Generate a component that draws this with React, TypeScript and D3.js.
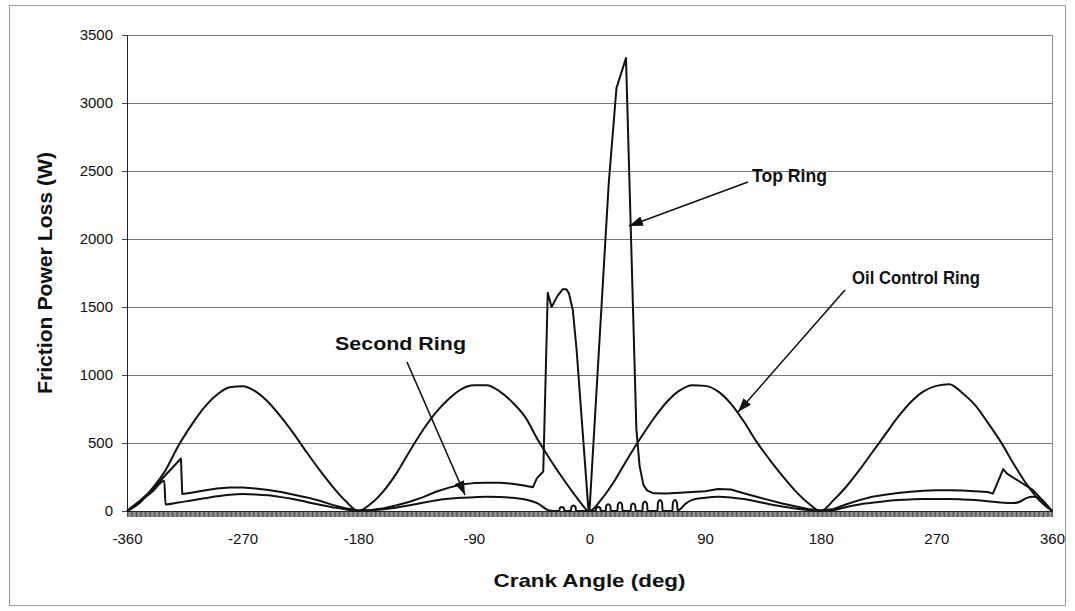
import * as d3 from "d3"
import { useEffect, useRef } from "react"

// Oil control ring, every 10 deg
const oilAngle = [-360, -350, -340, -330, -320, -310, -300, -290, -280, -270, -260, -250, -240, -230, -220, -210, -200, -190, -180,
  -170, -160, -150, -140, -130, -120, -110, -100, -90, -80, -70, -60, -50, -40, -30, -20, -10, 0,
  10, 20, 30, 40, 50, 60, 70, 80, 90, 100, 110, 120, 130, 140, 150, 160, 170, 180,
  190, 200, 210, 220, 230, 240, 250, 260, 270, 280, 290, 300, 310, 320, 330, 340, 350, 360]
const oilPower = [0, 60, 170, 300, 480, 630, 760, 855, 910, 918, 880, 800, 690, 565, 430, 300, 180, 75, 0,
  55, 150, 280, 440, 590, 720, 820, 895, 925, 925, 880, 800, 690, 520, 370, 230, 100, 0,
  95, 230, 390, 540, 680, 800, 885, 925, 920, 880, 790, 660, 510, 380, 260, 150, 60, 0,
  80, 180, 300, 430, 560, 690, 800, 880, 920, 932, 870, 780, 650, 510, 350, 200, 80, 0]

// Top ring
const topAngle = [-360, -350, -340, -330, -318, -317, -310, -300, -290, -280, -270, -260, -250, -240, -230, -220, -210, -200, -190, -180,
  -170, -160, -150, -140, -130, -120, -110, -100, -90, -80, -70, -60, -50, -44, -41, -36, -32.5, -29.5, -25, -21, -18, -16, -13, -10, -1, 0,
  15, 21, 28.4, 36.5, 39, 42, 45, 50, 60, 70, 80, 90, 100, 110, 120, 130, 140, 150, 160, 170, 180,
  190, 200, 210, 220, 230, 240, 250, 260, 270, 280, 290, 300, 310, 314, 322, 325, 335, 345, 355, 360]
const topPower = [0, 75, 160, 265, 386, 125, 135, 150, 165, 172, 172, 166, 155, 140, 120, 100, 75, 45, 20, 3,
  8, 20, 42, 68, 100, 140, 170, 195, 205, 208, 208, 200, 186, 175, 240, 290, 1605, 1500, 1580, 1630, 1630, 1600, 1480, 1180, 30, 5,
  2413, 3110, 3330, 600, 330, 190, 150, 130, 128, 135, 140, 145, 162, 158, 130, 105, 80, 55, 35, 15, 3,
  15, 50, 80, 105, 120, 132, 142, 148, 152, 153, 150, 145, 140, 128, 308, 275, 215, 155, 55, 0]

// Second ring (small arches around TDC)
const secondAngle = [-360, -350, -340, -331, -330, -320, -310, -300, -290, -280, -270, -260, -250, -240, -230, -220, -210, -200, -190, -180,
  -170, -160, -150, -140, -130, -120, -110, -100, -90, -80, -70, -60, -50, -40, -32, -28,
  -23.5, -23.1, -21.5, -19.9, -19.5, -14.5, -14.1, -12.5, -10.9, -10.5, 0,
  4.8, 5.2, 6.8, 8.4, 8.8, 12.6, 13, 14.6, 16.2, 16.6, 21.7, 22.1, 23.7, 25.3, 25.7,
  32, 32.4, 34, 35.6, 36, 41.2, 41.6, 43.2, 44.8, 45.2, 52.9, 53.3, 54.9, 56.5, 56.9,
  64.5, 64.9, 66.5, 68.1, 68.5, 70, 75, 80, 90, 100, 110, 120, 130, 140, 150, 160, 170, 180,
  190, 200, 210, 220, 230, 240, 250, 260, 270, 280, 290, 300, 310, 320, 330, 335, 340, 345, 350, 355, 360]
const secondPower = [0, 70, 145, 222, 48, 62, 78, 93, 108, 120, 125, 122, 115, 102, 86, 66, 46, 28, 12, 2,
  5, 12, 25, 42, 60, 78, 90, 98, 102, 104, 103, 97, 85, 55, 5, 0,
  0, 22, 30, 22, 0, 0, 30, 40, 30, 0, 0,
  0, 22, 30, 22, 0, 0, 38, 50, 38, 0, 0, 49, 65, 49, 0,
  0, 41, 55, 41, 0, 0, 52, 70, 52, 0, 0, 60, 80, 60, 0,
  0, 60, 80, 60, 5, 10, 55, 82, 98, 105, 100, 88, 70, 50, 33, 18, 8, 2,
  8, 30, 48, 60, 72, 80, 85, 88, 88, 88, 85, 80, 72, 62, 58, 68, 95, 105, 95, 50, 0]

const yTicks = [0, 500, 1000, 1500, 2000, 2500, 3000, 3500]
const xTicks = [-360, -270, -180, -90, 0, 90, 180, 270, 360]

const width = 1075
const height = 611
const font = "'Liberation Sans', Arial, sans-serif"

export default function App() {
  const ref = useRef<SVGSVGElement>(null)

  useEffect(() => {
    const svg = d3.select(ref.current)
    svg.selectAll("*").remove()

    const x = d3.scaleLinear().domain([-360, 360]).range([127, 1052])
    const y = d3.scaleLinear().domain([0, 3500]).range([511, 35])

    // outer chart border
    svg.append("rect")
      .attr("x", 9.5).attr("y", 5.5)
      .attr("width", 1056).attr("height", 600)
      .attr("fill", "none").attr("stroke", "#999")

    // gridlines
    svg.append("g")
      .selectAll("line")
      .data(yTicks.slice(1))
      .enter()
      .append("line")
        .attr("x1", x(-360)).attr("x2", x(360))
        .attr("y1", d => y(d) + 0.5).attr("y2", d => y(d) + 0.5)
        .attr("stroke", "#777")
        .attr("stroke-width", 1)

    // right side of plot area
    svg.append("line")
      .attr("x1", x(360) + 0.5).attr("x2", x(360) + 0.5)
      .attr("y1", y(3500)).attr("y2", y(0))
      .attr("stroke", "#888")

    // dense category ticks
    const minor = d3.range(-360, 361, 1)
    svg.append("g")
      .attr("transform", `translate(0,${y(0)})`)
      .call(d3.axisBottom(x).tickValues(minor).tickSize(6).tickFormat(() => ""))
      .call(g => g.select(".domain").remove())
      .call(g => g.selectAll(".tick line").attr("stroke", "#222").attr("stroke-width", 0.8))

    // x axis labels
    svg.append("g")
      .attr("transform", `translate(0,${y(0)})`)
      .call(d3.axisBottom(x).tickValues(xTicks).tickSize(0).tickPadding(22).tickFormat(d => String(d)))
      .call(g => g.select(".domain").attr("stroke", "#222"))
      .call(g => g.selectAll("text").attr("font-family", font).attr("font-size", 15).attr("fill", "#111"))

    // y axis
    svg.append("g")
      .attr("transform", `translate(${x(-360)},0)`)
      .call(d3.axisLeft(y).tickValues(yTicks).tickSize(5).tickPadding(9).tickFormat(d => String(d)))
      .call(g => g.select(".domain").attr("stroke", "#222"))
      .call(g => g.selectAll(".tick line").attr("stroke", "#444"))
      .call(g => g.selectAll("text").attr("font-family", font).attr("font-size", 15).attr("fill", "#111"))

    // series
    const series = [
      { a: oilAngle, p: oilPower, curve: d3.curveMonotoneX },
      { a: secondAngle, p: secondPower, curve: d3.curveMonotoneX },
      { a: topAngle, p: topPower, curve: d3.curveLinear },
    ]

    svg.append("g")
      .selectAll("path")
      .data(series)
      .enter()
      .append("path")
        .attr("d", s => d3.line<[number, number]>()
          .x(d => x(d[0]))
          .y(d => y(d[1]))
          .curve(s.curve)(s.a.map((v, i) => [v, s.p[i]] as [number, number])))
        .attr("fill", "none")
        .attr("stroke", "#111")
        .attr("stroke-width", 2)
        .attr("stroke-linejoin", "round")

    // arrow marker
    svg.append("defs")
      .append("marker")
        .attr("id", "head")
        .attr("markerUnits", "userSpaceOnUse")
        .attr("viewBox", "0 0 14 10")
        .attr("refX", 14).attr("refY", 5)
        .attr("markerWidth", 14).attr("markerHeight", 10)
        .attr("orient", "auto")
      .append("path")
        .attr("d", "M0,0 L14,5 L0,10 Z")
        .attr("fill", "#111")

    const notes = [
      { text: "Top Ring", tx: 752, ty: 182, size: 18, len: 75, x1: 748, y1: 182, x2: 629, y2: 226 },
      { text: "Oil Control Ring", tx: 852, ty: 284, size: 18, len: 128, x1: 845, y1: 290, x2: 738, y2: 412 },
      { text: "Second Ring", tx: 335, ty: 350, size: 19, len: 131, x1: 407, y1: 362, x2: 465, y2: 495 },
    ]
    svg.append("g")
      .selectAll("line")
      .data(notes)
      .enter()
      .append("line")
        .attr("x1", d => d.x1).attr("y1", d => d.y1)
        .attr("x2", d => d.x2).attr("y2", d => d.y2)
        .attr("stroke", "#111")
        .attr("stroke-width", 1.6)
        .attr("marker-end", "url(#head)")

    svg.append("g")
      .selectAll("text")
      .data(notes)
      .enter()
      .append("text")
        .attr("x", d => d.tx).attr("y", d => d.ty)
        .attr("font-family", font)
        .attr("font-size", d => d.size)
        .attr("font-weight", "bold")
        .attr("textLength", d => d.len)
        .attr("lengthAdjust", "spacingAndGlyphs")
        .attr("fill", "#111")
        .text(d => d.text)

    // axis titles
    svg.append("text")
      .attr("transform", `translate(52,${(y(0) + y(3500)) / 2}) rotate(-90)`)
      .attr("text-anchor", "middle")
      .attr("font-family", font)
      .attr("font-size", 20)
      .attr("font-weight", "bold")
      .attr("textLength", 242)
      .attr("lengthAdjust", "spacingAndGlyphs")
      .attr("fill", "#111")
      .text("Friction Power Loss (W)")

    svg.append("text")
      .attr("x", (x(-360) + x(360)) / 2)
      .attr("y", 587)
      .attr("text-anchor", "middle")
      .attr("font-family", font)
      .attr("font-size", 19)
      .attr("font-weight", "bold")
      .attr("textLength", 192)
      .attr("lengthAdjust", "spacingAndGlyphs")
      .attr("fill", "#111")
      .text("Crank Angle (deg)")
  }, [])

  return (
    <svg ref={ref} width={width} height={height}
      style={{ position: "absolute", left: 0, top: 0, background: "#fff" }} />
  )
}
